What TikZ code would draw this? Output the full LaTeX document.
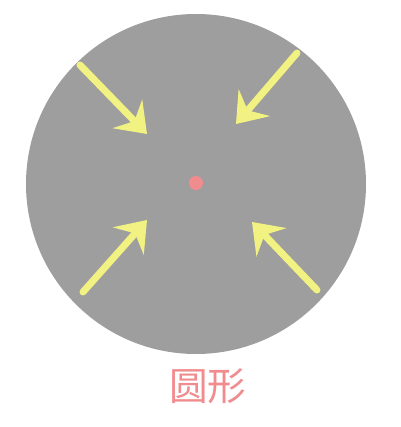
\documentclass[tikz,border=0pt]{standalone}
\usepackage{fontspec}
\newfontfamily\cjk{Noto Sans CJK SC}
\usepackage{tikz}
\usetikzlibrary{arrows.meta}
\definecolor{discgray}{HTML}{9E9E9E}
\definecolor{arrowyellow}{HTML}{F2F282}
\definecolor{dotpink}{HTML}{F08C8E}
\tikzset{
	push/.style={draw=arrowyellow, line width=0.14cm, line cap=round,
		-{Stealth[length=0.56cm, width=0.82cm, inset=0.2cm, fill=arrowyellow]}},
}
\begin{document}
\begin{tikzpicture}[x=0.02cm, y=-0.02cm]
			\useasboundingbox (0,0) rectangle (400,427);
			\coordinate (o) at (196,184);
			\fill[discgray] (o) circle (170);
			\node[circle, fill=dotpink, minimum size=0.28cm, inner sep=0pt] (centre) at (196,183) {};
			\coordinate (a1) at (80,65);
			\coordinate (a2) at (147,134);
			\coordinate (b1) at (297,53);
			\coordinate (b2) at (236,124);
			\coordinate (c1) at (83,292);
			\coordinate (c2) at (147,220);
			\coordinate (d1) at (317,290);
			\coordinate (d2) at (252,222);
			\draw[push] (a1) -- (a2);
			\draw[push] (b1) -- (b2);
			\draw[push] (c1) -- (c2);
			\draw[push] (d1) -- (d2);
			\node[text=dotpink, font=\cjk\fontsize{22}{26}\selectfont] (name) at (208,386) {圆形};
		\end{tikzpicture}
\end{document}
